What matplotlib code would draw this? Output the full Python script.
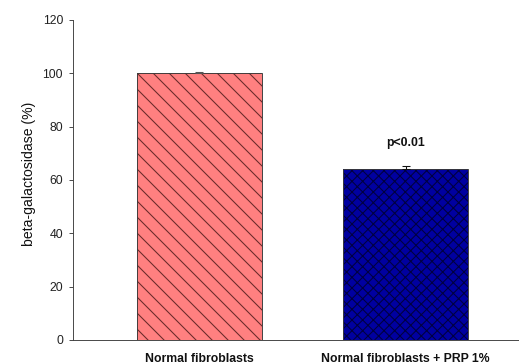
import matplotlib
matplotlib.use("Agg")
import matplotlib.pyplot as plt

categories = ["Normal fibroblasts", "Normal fibroblasts + PRP 1%"]
values = [100.0, 64.0]
errors = [0.6, 1.2]
yticks = [0, 20, 40, 60, 80, 100, 120]
annotation = "p<0.01"
ylabel = "beta-galactosidase (%)"

DPI = 96
plt.rcParams['font.family'] = ['Liberation Sans', 'DejaVu Sans']
plt.rcParams['hatch.linewidth'] = 0.8

fig = plt.figure(figsize=(519 / DPI, 364 / DPI), dpi=DPI)
ax = fig.add_axes([73 / 519, 24 / 364, 446 / 519, 320 / 364])

x = list(range(len(categories)))
faces = ['#FF8080', '#0000A0']
hatch_colors = ['#6a2a2a', '#000040']
hatches = ['\\\\', 'xxx']
width = 0.605
for xi, v, fc, hc, h in zip(x, values, faces, hatch_colors, hatches):
    ax.bar(xi, v, width=width, color=fc, edgecolor=hc, hatch=h, linewidth=0, zorder=2)
    ax.bar(xi, v, width=width, fill=False, edgecolor='#3a3a3a', linewidth=0.7, zorder=3)

ecolors = ['#555555', '#111111']
for xi, v, e, ec in zip(x, values, errors, ecolors):
    ax.errorbar(xi, v, yerr=[[0], [e]], fmt='none', ecolor=ec, elinewidth=0.8,
                capsize=3, capthick=0.8, zorder=4)

ax.text(x[1], 74, annotation, ha='center', va='center', fontsize=9.2, fontweight='bold', color='#111111')

ax.set_xlim(-0.611, 1.548)
ax.set_ylim(0, 120)
ax.set_yticks(yticks)
ax.set_xticks(x)
ax.set_xticklabels(categories, fontsize=9.2, fontweight='bold', color='#111111')
ax.tick_params(axis='x', length=0, pad=9.5)
ax.tick_params(axis='y', length=3, width=0.7, color='#404040', pad=4.5, labelsize=9.2, labelcolor='#222222')
ax.set_ylabel(ylabel, fontsize=10.5, color='#111111')
ax.yaxis.set_label_coords(-0.084, 0.52)

for s in ['top', 'right']:
    ax.spines[s].set_visible(False)
for s in ['left', 'bottom']:
    ax.spines[s].set_color('#404040')
    ax.spines[s].set_linewidth(0.7)

fig.savefig('out.png', dpi=DPI)
